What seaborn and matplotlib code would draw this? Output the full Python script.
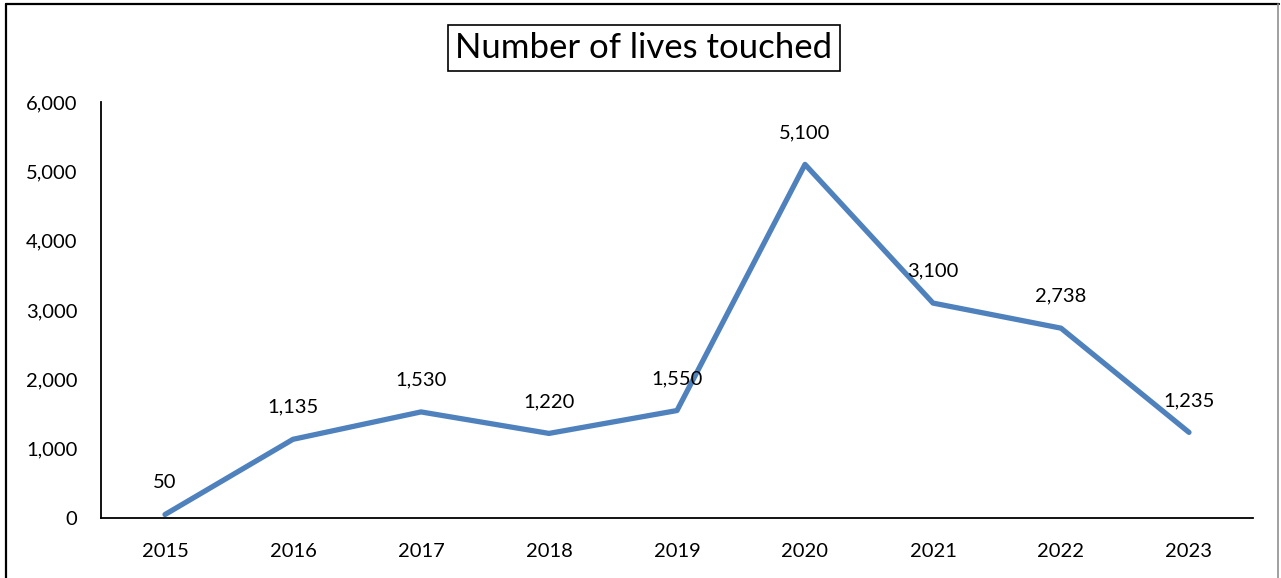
import matplotlib
matplotlib.use("Agg")
import matplotlib.pyplot as plt
from matplotlib.lines import Line2D
import seaborn as sns
import pandas as pd
import numpy as np

years = ["2015", "2016", "2017", "2018", "2019", "2020", "2021", "2022", "2023"]
lives = [50, 1135, 1530, 1220, 1550, 5100, 3100, 2738, 1235]
y_ticks = [0, 1000, 2000, 3000, 4000, 5000, 6000]

sns.set_theme(style="white")
plt.rcParams['font.family'] = ['Lato', 'DejaVu Sans']

W, H = 1281, 578
fig = plt.figure(figsize=(W / 100, H / 100), dpi=100)
ax = fig.add_axes([101 / W, 60 / H, (1253 - 101) / W, (518 - 102) / H])

df = pd.DataFrame({"pos": np.arange(len(years)), "year": years, "lives": lives})
sns.lineplot(data=df, x="pos", y="lives", ax=ax, color="#4F81BD", linewidth=3.8,
             solid_capstyle="round", solid_joinstyle="round")

ax.set_xlim(-0.5, len(years) - 0.5)
ax.set_ylim(0, 6000)
ax.set_xticks(df["pos"])
ax.set_xticklabels(years)
ax.set_yticks(y_ticks)
ax.set_yticklabels([f"{v:,}" for v in y_ticks])
ax.tick_params(axis="both", length=0, labelsize=14.5, colors="black")
ax.tick_params(axis="y", pad=17)
ax.tick_params(axis="x", pad=18)
ax.set_xlabel("")
ax.set_ylabel("")
for s in ["top", "right"]:
    ax.spines[s].set_visible(False)
for s in ["left", "bottom"]:
    ax.spines[s].set_color("black")
    ax.spines[s].set_linewidth(1.3)

for p, v in zip(df["pos"], df["lives"]):
    ax.annotate(f"{v:,}", (p, v), xytext=(0, 23), textcoords="offset points",
                ha="center", va="center", fontsize=14.5, color="black")

fig.text(644 / W, 1 - 48 / H, "Number of lives touched", ha="center", va="center",
         fontsize=25, color="black",
         bbox=dict(boxstyle="square,pad=0.2", facecolor="white", edgecolor="black", linewidth=1.2))

# outer frame
fig.add_artist(Line2D([6 / W, 1279 / W], [1 - 4 / H, 1 - 4 / H], color="black", linewidth=1.6))
fig.add_artist(Line2D([6 / W, 6 / W], [0, 1 - 4 / H], color="black", linewidth=1.6))
fig.add_artist(Line2D([1278 / W, 1278 / W], [0, 1 - 4 / H], color="#909090", linewidth=1.2))

fig.savefig("out.png", dpi=100, facecolor="white")
